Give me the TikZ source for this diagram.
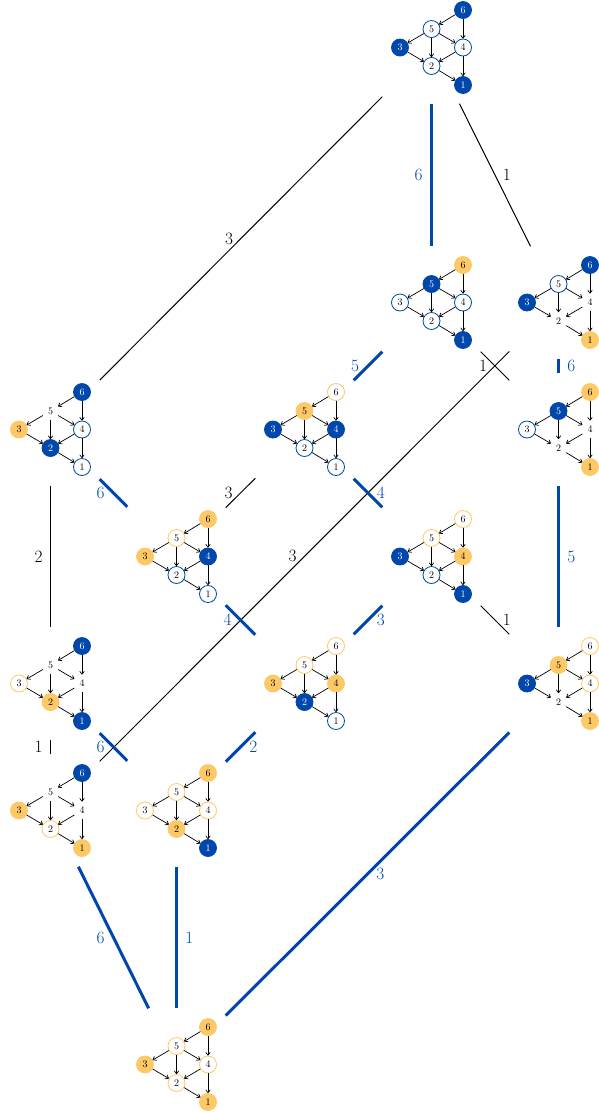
\documentclass[tikz,border=0pt]{standalone}
\usetikzlibrary{arrows.meta}
\definecolor{cobalt}{RGB}{0,71,171}
\definecolor{sand}{RGB}{253,200,102}

\tikzset{
  vtx/.style={circle, minimum size=17pt, inner sep=0pt, line width=0.8pt, font=\normalsize},
  bfill/.style={vtx, draw=cobalt, fill=cobalt, text=white},
  bline/.style={vtx, draw=cobalt, fill=white},
  yfill/.style={vtx, draw=sand, fill=sand},
  yline/.style={vtx, draw=sand, fill=white},
  bare/.style={vtx},
  dep/.style={-{To[length=3.5pt, width=5pt]}, line width=0.7pt},
  graphbox/.style={rectangle, minimum width=98pt, minimum height=112pt, inner sep=0pt},
  thin edge/.style={line width=1pt},
  thick edge/.style={line width=3pt, cobalt},
  lab/.style={font=\LARGE}
}

% one small graph: name, centre x, centre y, states of 6,5,4,3,2,1
\newcommand{\stategraph}[9]{%
  \node[graphbox] (#1) at (#2,#3) {};
  \begin{scope}[shift={(#2,#3)}]
    \node[#4] (#1-6) at (31.5,-37.5) {6};
    \node[#5] (#1-5) at (0,-18.5) {5};
    \node[#6] (#1-4) at (31.5,0) {4};
    \node[#7] (#1-3) at (-31.5,0) {3};
    \node[#8] (#1-2) at (0,18.5) {2};
    \node[#9] (#1-1) at (31.5,37.5) {1};
  \end{scope}
  \foreach \a/\b in {6/5,6/4,5/3,5/2,5/4,3/2,4/2,2/1,4/1}
    \draw[dep] (#1-\a) -- (#1-\b);
}

\begin{document}
\begin{tikzpicture}[x=1pt, y=-1pt]
  \useasboundingbox (0,0) rectangle (599,1112);

  % Graphs
  \stategraph{g1}{431.5}{47.5}{bfill}{bline}{bline}{bfill}{bline}{bfill}
  \stategraph{g2}{431.5}{302.5}{yfill}{bfill}{bline}{bline}{bline}{bfill}
  \stategraph{g3}{558.5}{302.5}{bfill}{bline}{bare}{bfill}{bare}{yfill}
  \stategraph{g4}{558.5}{429.5}{yfill}{bfill}{bare}{bline}{bare}{yfill}
  \stategraph{g5}{50.5}{429.5}{bfill}{bare}{bline}{yfill}{bfill}{bline}
  \stategraph{g6}{304.5}{429.5}{yline}{yfill}{bfill}{bfill}{bline}{bline}
  \stategraph{g7}{176.5}{556.5}{yfill}{yline}{bfill}{yfill}{bline}{bline}
  \stategraph{g8}{431.5}{556.5}{yline}{yline}{yfill}{bfill}{bline}{bfill}
  \stategraph{g9}{50.5}{683.5}{bfill}{bare}{bare}{yline}{yfill}{bfill}
  \stategraph{g10}{304.5}{683.5}{yline}{yline}{yfill}{yfill}{bfill}{bline}
  \stategraph{g11}{558.5}{683.5}{yline}{yfill}{yline}{bfill}{bare}{yfill}
  \stategraph{g12}{50.5}{810.5}{bfill}{bare}{bare}{yfill}{yline}{yfill}
  \stategraph{g13}{176.5}{810.5}{yfill}{yline}{yline}{yline}{yfill}{bfill}
  \stategraph{g14}{176.5}{1064.5}{yfill}{yline}{yline}{yfill}{yline}{yfill}

  % Black steps
  \draw[thin edge] (g1) -- node[lab, left=4pt] {3} (g5);
  \draw[thin edge] (g1) -- node[lab, right=4pt] {1} (g3);
  \draw[thin edge] (g2) -- node[lab, left=4pt] {1} (g4);
  \draw[thin edge] (g3) -- node[lab, left=4pt] {3} (g12);
  \draw[thin edge] (g5) -- node[lab, left=4pt] {2} (g9);
  \draw[thin edge] (g6) -- node[lab, left=4pt] {3} (g7);
  \draw[thin edge] (g8) -- node[lab, right=4pt] {1} (g11);
  \draw[thin edge] (g9) -- node[lab, left=4pt] {1} (g12);

  % Blue steps
  \draw[thick edge] (g1) -- node[lab, left=4pt] {6} (g2);
  \draw[thick edge] (g2) -- node[lab, left=4pt] {5} (g6);
  \draw[thick edge] (g3) -- node[lab, right=4pt] {6} (g4);
  \draw[thick edge] (g5) -- node[lab, left=4pt] {6} (g7);
  \draw[thick edge] (g6) -- node[lab, right=4pt] {4} (g8);
  \draw[thick edge] (g4) -- node[lab, right=4pt] {5} (g11);
  \draw[thick edge] (g7) -- node[lab, left=4pt] {4} (g10);
  \draw[thick edge] (g8) -- node[lab, right=4pt] {3} (g10);
  \draw[thick edge] (g9) -- node[lab, left=4pt] {6} (g13);
  \draw[thick edge] (g10) -- node[lab, right=4pt] {2} (g13);
  \draw[thick edge] (g12) -- node[lab, left=4pt] {6} (g14);
  \draw[thick edge] (g13) -- node[lab, right=4pt] {1} (g14);
  \draw[thick edge] (g11) -- node[lab, right=4pt] {3} (g14);
\end{tikzpicture}
\end{document}
